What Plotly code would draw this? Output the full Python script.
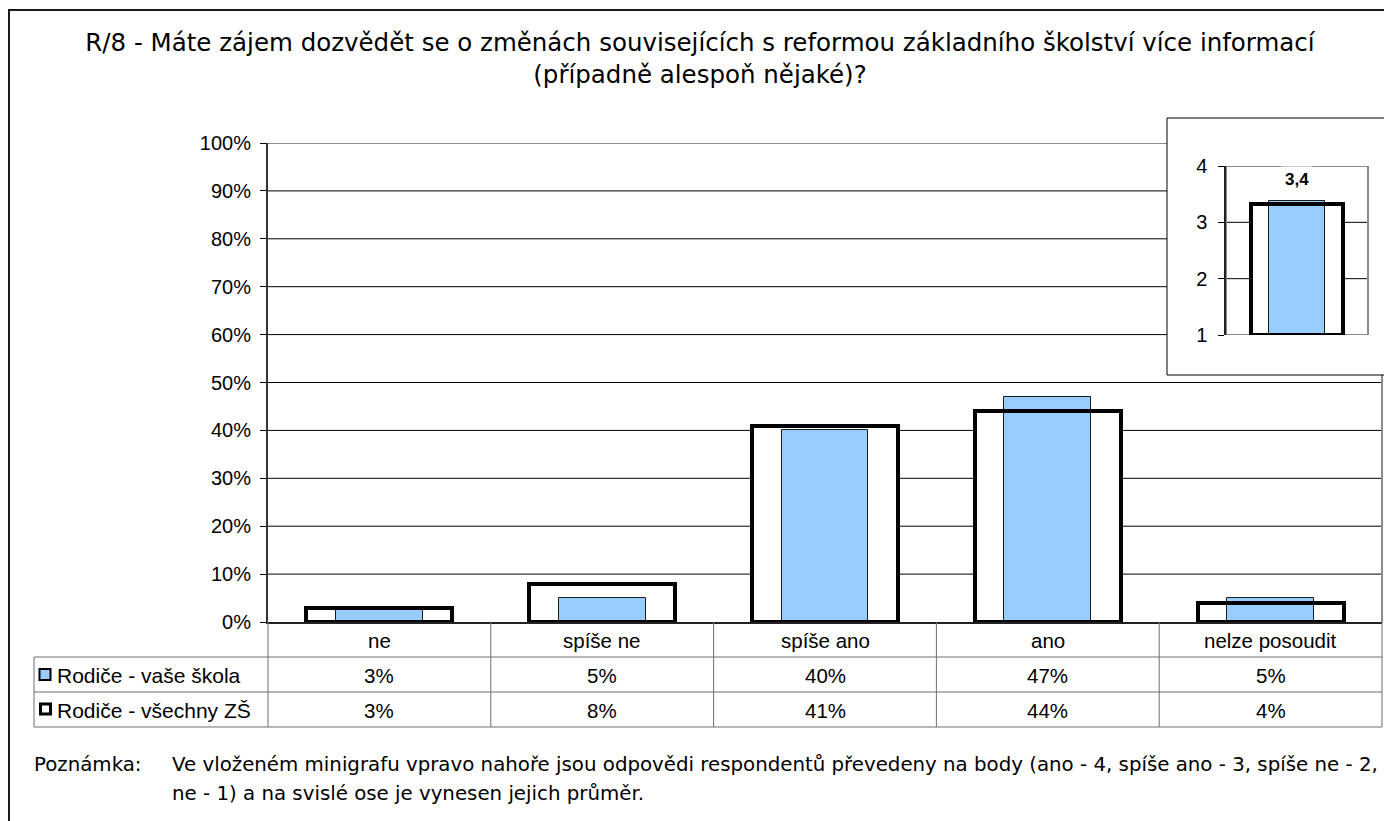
import plotly.graph_objects as go

# ---------------- data ----------------
categories = ["ne", "spíše ne", "spíše ano", "ano", "nelze posoudit"]
series_names = ["Rodiče - vaše škola", "Rodiče - všechny ZŠ"]
vase_skola = [3, 5, 40, 47, 5]
vsechny_zs = [3, 8, 41, 44, 4]
y_tick_values = [0, 10, 20, 30, 40, 50, 60, 70, 80, 90, 100]
y_tick_labels = ["0%", "10%", "20%", "30%", "40%", "50%", "60%", "70%", "80%", "90%", "100%"]

mini_category = ["průměr"]
mini_vase_skola = [3.37]
mini_vsechny_zs = [3.33]
mini_label = ["3,4"]
mini_tick_values = [1, 2, 3, 4]
mini_tick_labels = ["1", "2", "3", "4"]

title_text = ("R/8 - Máte zájem dozvědět se o změnách souvisejících s reformou základního školství více informací"
              "<br>(případně alespoň nějaké)?")
note_label = "Poznámka:"
note_lines = [
    "Ve vloženém minigrafu vpravo nahoře jsou odpovědi respondentů převedeny na body (ano - 4, spíše ano - 3, spíše ne - 2,",
    "ne - 1) a na svislé ose je vynesen jejich průměr.",
]

# ---------------- layout helpers (screen pixel coordinates) ----------------
OFF = 8                      # default page margin of the html body
W, H = 1392 - OFF, 821 - OFF
L, R, T, B = 268, 1382, 143, 622   # main plot area on screen


def px(x):
    return (x - L) / (R - L)


def py(y):
    return (B - y) / (B - T)


BLUE = "#99CCFF"
ARIAL = "Liberation Sans, Arial, sans-serif"
WIDE = "DejaVu Sans, Verdana, sans-serif"
GRID_GREY = "#8c8c8c"
TABLE_LINE = "#6f6f6f"

fig = go.Figure()

# main chart: white fill of outline bars, blue bars, then outline strokes on top
fig.add_trace(go.Bar(x=categories, y=vsechny_zs, width=0.655, name=series_names[1],
                     marker=dict(color="white", line=dict(width=0)),
                     showlegend=False, hoverinfo="skip"))
fig.add_trace(go.Bar(x=categories, y=vase_skola, width=0.39, name=series_names[0],
                     marker=dict(color=BLUE, line=dict(color="#1a1a1a", width=1)),
                     showlegend=False))
fig.add_trace(go.Bar(x=categories, y=vsechny_zs, width=0.655, name=series_names[1],
                     marker=dict(color="rgba(0,0,0,0)", line=dict(color="black", width=4)),
                     showlegend=False))

# inset chart (bars start at the axis minimum 1)
fig.add_trace(go.Bar(x=mini_category, y=[v - 1 for v in mini_vsechny_zs], base=1, width=0.645,
                     marker=dict(color="white", line=dict(width=0)),
                     xaxis="x2", yaxis="y2", showlegend=False, hoverinfo="skip"))
fig.add_trace(go.Bar(x=mini_category, y=[v - 1 for v in mini_vase_skola], base=1, width=0.4,
                     marker=dict(color=BLUE, line=dict(color="#1a1a1a", width=1)),
                     xaxis="x2", yaxis="y2", showlegend=False))
fig.add_trace(go.Bar(x=mini_category, y=[v - 1 for v in mini_vsechny_zs], base=1, width=0.645,
                     marker=dict(color="rgba(0,0,0,0)", line=dict(color="black", width=4)),
                     xaxis="x2", yaxis="y2", showlegend=False))

shapes = []
# main gridlines (drawn as low-layer shapes so the inset box can hide them)
for v in y_tick_values[1:-1]:
    shapes.append(dict(type="line", xref="paper", yref="y", x0=0, x1=1, y0=v, y1=v,
                       line=dict(color="black", width=1), layer="below"))
shapes.append(dict(type="line", xref="paper", yref="y", x0=0, x1=1, y0=y_tick_values[-1], y1=y_tick_values[-1],
                   line=dict(color=GRID_GREY, width=2), layer="below"))
shapes.append(dict(type="line", xref="paper", yref="y", x0=1, x1=1, y0=y_tick_values[0], y1=y_tick_values[-1],
                   line=dict(color=GRID_GREY, width=2), layer="below"))
# inset white box
shapes.append(dict(type="rect", xref="paper", yref="paper", x0=px(1167), x1=px(1420),
                   y0=py(375), y1=py(118), line=dict(color="black", width=1),
                   fillcolor="white", layer="below"))
# inset gridlines and grey plot-area border
for v in mini_tick_values[1:-1]:
    shapes.append(dict(type="line", xref="paper", yref="y2", x0=px(1226), x1=px(1368), y0=v, y1=v,
                       line=dict(color="black", width=1), layer="below"))
shapes.append(dict(type="rect", xref="paper", yref="y2", x0=px(1226), x1=px(1368),
                   y0=mini_tick_values[0], y1=mini_tick_values[-1],
                   line=dict(color=GRID_GREY, width=2), fillcolor="rgba(0,0,0,0)", layer="below"))

# data table lines
for yy in [657, 692, 727]:
    shapes.append(dict(type="line", xref="paper", yref="paper", x0=px(34), x1=1, y0=py(yy), y1=py(yy),
                       line=dict(color=TABLE_LINE, width=1), layer="above"))
shapes.append(dict(type="line", xref="paper", yref="paper", x0=px(34), x1=px(34), y0=py(657), y1=py(727),
                   line=dict(color=TABLE_LINE, width=1), layer="above"))
for xx in [0, 1]:
    shapes.append(dict(type="line", xref="paper", yref="paper", x0=xx, x1=xx, y0=py(622), y1=py(727),
                       line=dict(color=TABLE_LINE, width=1), layer="above"))
for i in range(len(categories) - 1):
    shapes.append(dict(type="line", xref="x", yref="paper", x0=i + 0.5, x1=i + 0.5, y0=py(622), y1=py(727),
                       line=dict(color=TABLE_LINE, width=1), layer="above"))

# legend keys inside table
shapes.append(dict(type="rect", xref="paper", yref="paper", x0=px(39.5), x1=px(50.5), y0=py(680), y1=py(669),
                   line=dict(color="black", width=2), fillcolor=BLUE, layer="above"))
shapes.append(dict(type="rect", xref="paper", yref="paper", x0=px(40.5), x1=px(50.5), y0=py(714), y1=py(704),
                   line=dict(color="black", width=3), fillcolor="white", layer="above"))

# outer frame
shapes.append(dict(type="rect", xref="paper", yref="paper", x0=px(9), x1=px(1420), y0=py(850), y1=py(10),
                   line=dict(color="#1a1a1a", width=2), fillcolor="rgba(0,0,0,0)", layer="above"))

annotations = []
# category row
for c in categories:
    annotations.append(dict(text=c, xref="x", yref="paper", x=c, y=py(640), showarrow=False,
                            xanchor="center", yanchor="middle", font=dict(family=ARIAL, size=20.5, color="black")))
# value rows
row_centers = [675, 710]
for series, yy in zip([vase_skola, vsechny_zs], row_centers):
    for c, v in zip(categories, series):
        annotations.append(dict(text=f"{v}%", xref="x", yref="paper", x=c, y=py(yy), showarrow=False,
                                xanchor="center", yanchor="middle",
                                font=dict(family=ARIAL, size=20.5, color="black")))
for name, yy in zip(series_names, row_centers):
    annotations.append(dict(text=name, xref="paper", yref="paper", x=px(55), y=py(yy), showarrow=False,
                            xanchor="left", yanchor="middle", font=dict(family=ARIAL, size=21, color="black")))

# inset value label
annotations.append(dict(text=f"<b>{mini_label[0]}</b>", xref="x2", yref="y2", x=mini_category[0],
                        y=mini_vase_skola[0], yshift=22, showarrow=False, xanchor="center", yanchor="middle",
                        bgcolor="white", borderpad=3, font=dict(family=ARIAL, size=17, color="black")))

# note
annotations.append(dict(text=note_label, xref="paper", yref="paper", x=px(32), y=py(764), showarrow=False,
                        xanchor="left", yanchor="middle", font=dict(family=WIDE, size=19.8, color="black")))
for line, yy in zip(note_lines, [764, 793]):
    annotations.append(dict(text=line, xref="paper", yref="paper", x=px(170), y=py(yy), showarrow=False,
                            xanchor="left", yanchor="middle", font=dict(family=WIDE, size=19.8, color="black")))

fig.update_layout(
    width=W, height=H,
    margin=dict(l=L - OFF, r=W - (R - OFF), t=T - OFF, b=H - (B - OFF), pad=0),
    paper_bgcolor="white", plot_bgcolor="rgba(0,0,0,0)",
    barmode="overlay", bargap=0,
    title=dict(text=title_text, x=(700 - OFF) / W, xanchor="center", y=1 - (51 - OFF) / H, yanchor="middle",
               xref="container", yref="container",
               font=dict(family=WIDE, size=24.5, color="black")),
    xaxis=dict(type="category", categoryorder="array", categoryarray=categories, range=[-0.5, 4.5],
               showticklabels=False, ticks="", showgrid=False, zeroline=False,
               showline=True, linecolor="#222222", linewidth=2, fixedrange=True),
    yaxis=dict(range=[0, 100], tickmode="array", tickvals=y_tick_values, ticktext=y_tick_labels,
               showgrid=False, zeroline=False, showline=True, linecolor="#333333",
               linewidth=2, ticks="outside", ticklen=6, tickcolor="black", tickwidth=1,
               ticklabelstandoff=5, tickfont=dict(family=ARIAL, size=20, color="black"), fixedrange=True),
    xaxis2=dict(domain=[px(1226), px(1368)], anchor="y2", type="category", range=[-0.5, 0.5],
                showticklabels=False, ticks="", showgrid=False, zeroline=False, showline=False,
                fixedrange=True),
    yaxis2=dict(domain=[py(335), py(166)], anchor="x2", range=[1, 4], tickmode="array",
                tickvals=mini_tick_values, ticktext=mini_tick_labels,
                showgrid=False, zeroline=False, showline=True,
                linecolor="#222222", linewidth=1.5, ticks="outside", ticklen=6, tickcolor="black",
                ticklabelstandoff=7, tickfont=dict(family=ARIAL, size=20, color="black"), fixedrange=True),
    shapes=shapes,
    annotations=annotations,
)

fig.write_html("out.html")
